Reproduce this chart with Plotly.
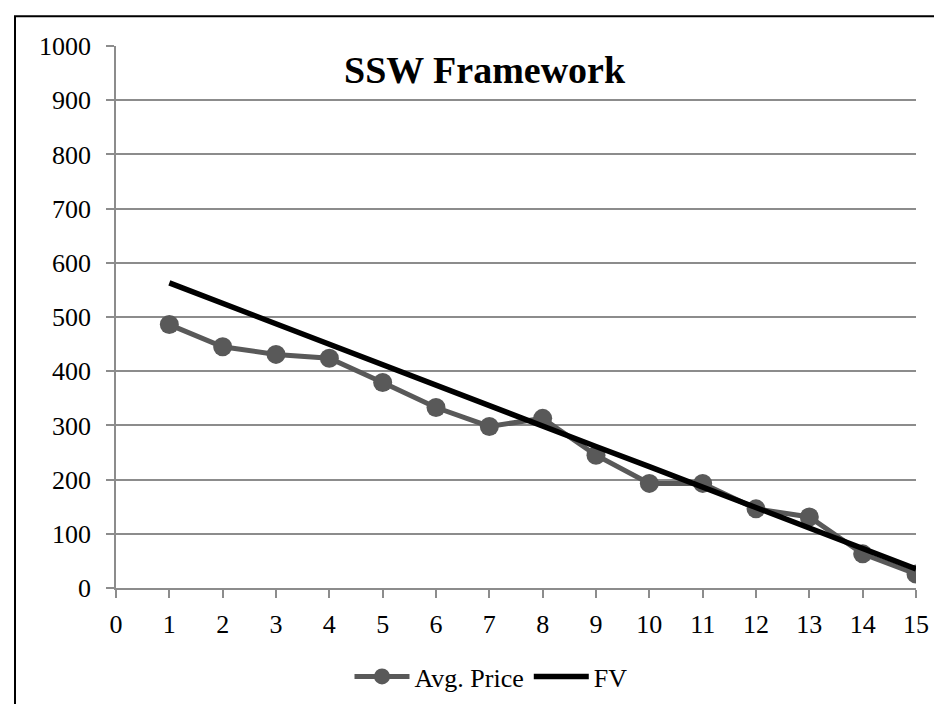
import plotly.graph_objects as go

x_years = [1, 2, 3, 4, 5, 6, 7, 8, 9, 10, 11, 12, 13, 14, 15]
avg_price = [486, 445, 431, 424, 379, 333, 298, 313, 245, 193, 193, 146, 131, 63, 26]
fv = [563, 525, 488, 450, 412, 374, 337, 299, 261, 224, 186, 148, 110, 73, 35]

x_ticks = list(range(0, 16))
y_ticks = list(range(0, 1001, 100))

FONT = "Liberation Serif"
GRID = "#8c8c8c"

fig = go.Figure()
fig.add_trace(go.Scatter(
    x=x_years, y=avg_price, name="Avg. Price", mode="lines+markers",
    line=dict(color="#595959", width=5),
    marker=dict(color="#595959", size=19, symbol="circle"),
))
fig.add_trace(go.Scatter(
    x=x_years, y=fv, name="FV", mode="lines",
    line=dict(color="#000000", width=5.5),
))

L, R, T, B = 108, 34, 38, 121
W, H = 942, 704
pw, ph = W - L - R, H - T - B

def px2paper_x(px):
    return (px - L) / pw

def px2paper_y(py):
    return (H - B - py) / ph

fig.update_layout(
    width=W, height=H,
    margin=dict(l=L, r=R, t=T, b=B),
    paper_bgcolor="white", plot_bgcolor="white",
    font=dict(family=FONT, size=26, color="#000000"),
    showlegend=True,
    legend=dict(
        orientation="h", x=px2paper_x(483), xanchor="center",
        y=px2paper_y(672), yanchor="middle",
        font=dict(family=FONT, size=26), itemwidth=55,
        bgcolor="rgba(0,0,0,0)",
    ),
    xaxis=dict(
        range=[0, 15], tickvals=x_ticks, ticktext=[str(v) for v in x_ticks],
        showgrid=False, zeroline=False,
        showline=True, linecolor=GRID, linewidth=1.5,
        ticks="outside", ticklen=8, tickcolor=GRID, tickwidth=1.5,
        ticklabelstandoff=4,
        tickfont=dict(family=FONT, size=26),
    ),
    yaxis=dict(
        range=[0, 1000], tickvals=y_ticks, ticktext=[str(v) for v in y_ticks],
        showgrid=True, gridcolor=GRID, gridwidth=1.5, zeroline=False,
        showline=True, linecolor=GRID, linewidth=1.5,
        ticks="outside", ticklen=8, tickcolor=GRID, tickwidth=1.5,
        ticklabelstandoff=10,
        tickfont=dict(family=FONT, size=26),
    ),
    annotations=[dict(
        text="<b>SSW Framework</b>", xref="paper", yref="paper",
        x=px2paper_x(477), y=px2paper_y(62), xanchor="center", yanchor="middle",
        showarrow=False, font=dict(family=FONT, size=38, color="#000000"),
    )],
    shapes=[dict(
        type="rect", xref="paper", yref="paper",
        x0=px2paper_x(7), x1=px2paper_x(1000),
        y0=px2paper_y(760), y1=px2paper_y(8),
        line=dict(color="#000000", width=2), fillcolor="rgba(0,0,0,0)",
        layer="above",
    )],
)

fig.write_html("out.html")
